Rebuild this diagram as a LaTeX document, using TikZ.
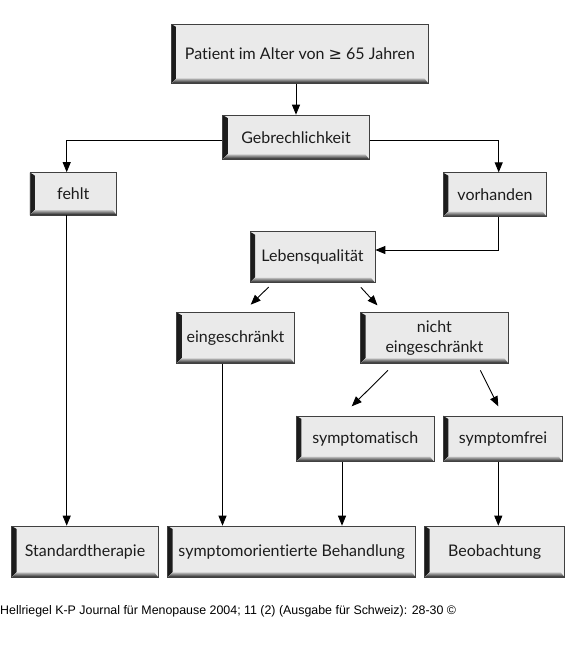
\documentclass[tikz,border=0pt]{standalone}
\usepackage{fontspec}
\setmainfont{Lato}[Ligatures={NoCommon}]
\newfontfamily\footfont{Liberation Sans}
\newfontfamily\symf{DejaVu Sans}
\usetikzlibrary{arrows.meta,calc}
\definecolor{boxgray}{HTML}{EAEAEA}
\definecolor{txt}{HTML}{1C1C1C}
\tikzset{
  bx/.style={draw=black!75, line width=0.7pt, fill=boxgray, inner sep=0pt,
    text=txt, font=\fontsize{16}{20}\selectfont, align=center,
    path picture={
      \fill[left color=black!90, right color=black!25]
        (path picture bounding box.south west) -- (path picture bounding box.north west)
        -- ([xshift=5pt,yshift=-3pt]path picture bounding box.north west)
        -- ([xshift=5pt,yshift=5pt]path picture bounding box.south west) -- cycle;
      \fill[bottom color=black!90, top color=black!25]
        (path picture bounding box.south west)
        -- ([xshift=5pt,yshift=5pt]path picture bounding box.south west)
        -- ([xshift=-4pt,yshift=5pt]path picture bounding box.south east)
        -- (path picture bounding box.south east) -- cycle;
    }},
  conn/.style={draw=black, line width=0.9pt},
  arr/.style={conn, -{Triangle[length=10pt,width=8pt]}},
}
\begin{document}
\begin{tikzpicture}[x=1pt,y=-1pt]
\useasboundingbox[fill=white] (0,0) rectangle (578,661);

\node[bx, minimum width=256.6, minimum height=59] (pat) at (300,53.8) {Patient im Alter von {\symf ≥} 65 Jahren};
\node[bx, minimum width=146.6, minimum height=44.3] (geb) at (296,137.2) {Gebrechlichkeit};
\node[bx, minimum width=86.7, minimum height=42.5] (fehlt) at (73.3,193.8) {fehlt};
\node[bx, minimum width=103.4, minimum height=44] (vorh) at (495,194.7) {vorhanden};
\node[bx, minimum width=125, minimum height=51] (leb) at (312.5,257.2) {Lebensqualität};
\node[bx, minimum width=117.6, minimum height=51] (ein) at (235.5,337.8) {eingeschränkt};
\node[bx, minimum width=147.8, minimum height=51] (nein) at (434.4,337.8) {nicht\\eingeschränkt};
\node[bx, minimum width=137.5, minimum height=45.7] (sym) at (365.2,438.8) {symptomatisch};
\node[bx, minimum width=119.4, minimum height=45.7] (sfrei) at (503,438.8) {symptomfrei};
\node[bx, minimum width=146.6, minimum height=51.3] (std) at (85,551.7) {Standardtherapie};
\node[bx, minimum width=248.1, minimum height=51.3] (beh) at (291.7,551.7) {symptomorientierte Behandlung};
\node[bx, minimum width=140.1, minimum height=51.3] (beo) at (494.6,551.7) {Beobachtung};

\node[anchor=west, inner sep=0pt, font=\footfont\fontsize{12.4}{14}\selectfont, text=black] (foot) at (0,611)
  {Hellriegel K-P Journal für Menopause 2004; 11 (2) (Ausgabe für Schweiz): 28-30 ©};

% guide coordinates
\coordinate (xL) at (66.7,140.7);
\coordinate (xR) at (498.7,140.7);
\coordinate (xV) at (498.7,250);
\coordinate (xE) at (222.5,0);
\coordinate (xS) at (342,0);
\coordinate (xF) at (498.3,0);

\draw[arr] (pat.south -| geb.north) -- (geb.north);
\draw[arr] (geb.west |- xL) -- (xL) -- (fehlt.north -| xL);
\draw[arr] (geb.east |- xR) -- (xR) -- (vorh.north -| xR);
\draw[arr] (fehlt.south -| xL) -- (std.north -| xL);
\draw[arr] (vorh.south -| xV) -- (xV) -- (leb.east |- xV);
\draw[arr] ($(leb.south west)+(19,4)$) -- ($(ein.north)+(15.2,-7.3)$);
\draw[arr] ($(leb.south east)+(-14.5,4.3)$) -- ($(nein.north west)+(17.3,-6.6)$);
\draw[arr] ($(nein.south west)+(27.8,6.7)$) -- ($(sym.north)+(-13.5,-9.3)$);
\draw[arr] ($(nein.south east)+(-28.3,6.7)$) -- ($(sfrei.north)+(-4.7,-9.3)$);
\draw[arr] (ein.south -| xE) -- (beh.north -| xE);
\draw[arr] (sym.south -| xS) -- (beh.north -| xS);
\draw[arr] (sfrei.south -| xF) -- (beo.north -| xF);
\end{tikzpicture}
\end{document}
